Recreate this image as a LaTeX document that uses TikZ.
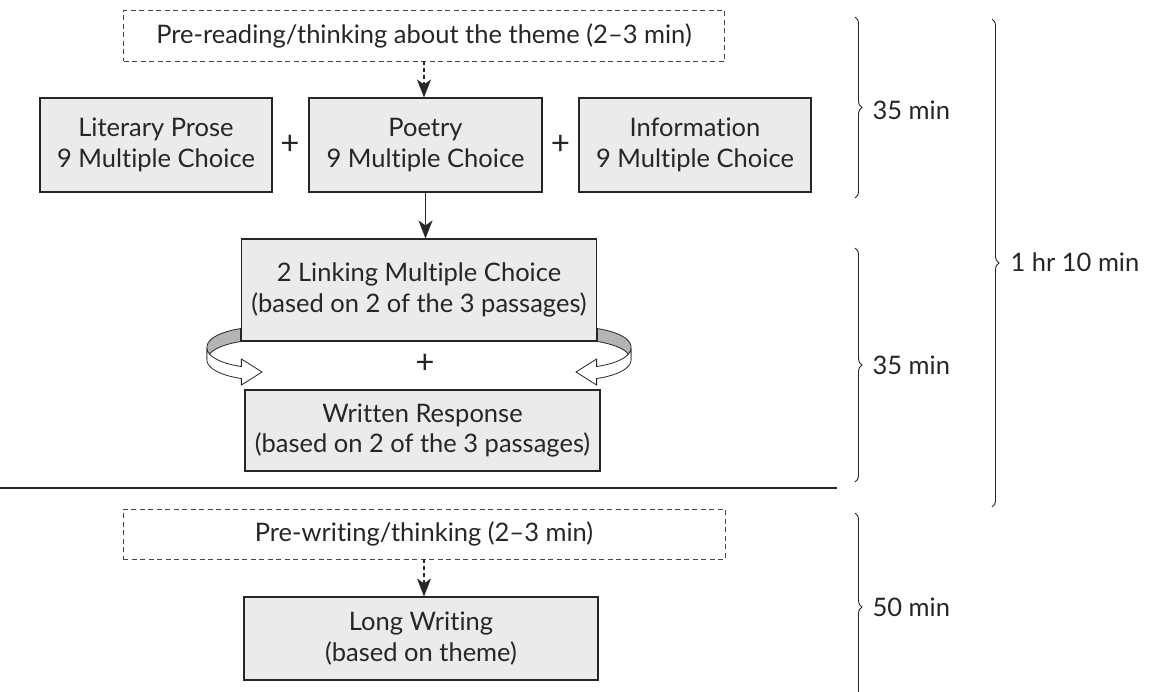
\documentclass[tikz,border=0pt]{standalone}
\usepackage{fontspec}
\setmainfont{Lato}[Ligatures=NoCommon]
\usetikzlibrary{arrows.meta,decorations.pathreplacing}

\definecolor{boxfill}{HTML}{EBEBEC}
\definecolor{ink}{HTML}{262626}
\definecolor{ribbongray}{HTML}{B4B4B6}

\tikzset{
  every node/.style={text=ink, font=\fontsize{25.5}{30.5}\selectfont, align=center},
  task/.style={draw=ink, fill=boxfill, line width=1.1pt, inner sep=0pt},
  prep/.style={draw=ink!85, dash pattern=on 5pt off 3.5pt, line width=0.9pt, inner sep=0pt},
  plus/.style={font=\fontsize{33}{33}\selectfont},
  tip/.style={-{Stealth[length=18pt,width=14pt,inset=5pt]}, line width=1.4pt, draw=ink},
  timebrace/.style={decorate, decoration={brace, amplitude=7pt}, line width=0.9pt, draw=ink},
}

% one twisted ribbon arrow, left side
\newcommand{\ribbonarrow}{%
  \filldraw[fill=ribbongray, draw=ink, line width=0.8pt]
    plot[domain=113:180, samples=25, variable=\t] ({262+55*cos(\t)}, {347-20*sin(\t)})
    -- plot[domain=180:113, samples=25, variable=\t] ({262+55*cos(\t)}, {360-20*sin(\t)})
    -- cycle;
  \filldraw[fill=white, draw=ink, line width=0.8pt]
    plot[domain=180:248, samples=25, variable=\t] ({262+55*cos(\t)}, {348-20*sin(\t)})
    -- ({262+55*cos(248)}, 359) -- (262,372) -- ({262+55*cos(248)}, 385)
    -- plot[domain=248:180, samples=25, variable=\t] ({262+55*cos(\t)}, {360-20*sin(\t)})
    -- cycle;%
}

\begin{document}
\begin{tikzpicture}[x=1pt, y=-1pt]
    \useasboundingbox (0,0) rectangle (1162,691);
    % reading part
    \node[prep, minimum width=601pt, minimum height=51pt] (preread) at (424,35.5)
        {Pre-reading/thinking about the theme (2--3 min)};
    \node[task, minimum width=232pt, minimum height=94pt] (prose) at (156,145)
        {Literary Prose\\9 Multiple Choice};
    \node[task, minimum width=233pt, minimum height=94pt] (poetry) at (425.5,145)
        {Poetry\\9 Multiple Choice};
    \node[task, minimum width=232pt, minimum height=94pt] (info) at (695,145)
        {Information\\9 Multiple Choice};
    \node[plus] (plusA) at (290,145) {+};% between prose and poetry
    \node[plus] (plusB) at (560.5,145) {+};% between poetry and information
    \node[task, minimum width=355pt, minimum height=102pt] (linking) at (419,290)
        {2 Linking Multiple Choice\\(based on 2 of the 3 passages)};
    \node[plus] (plusC) at (425,364) {+};
    \node[task, minimum width=355pt, minimum height=81pt] (written) at (422.5,430.5)
        {Written Response\\(based on 2 of the 3 passages)};
    \draw[tip, dash pattern=on 4pt off 3pt] (preread.south) -- (preread.south |- poetry.north);
    \draw[tip] (poetry.south) -- (poetry.south |- linking.north);
    % ribbon arrows round the linking box
    \ribbonarrow
    \begin{scope}[shift={(838,0)}, xscale=-1]
        \ribbonarrow
    \end{scope}
    % separator
    \coordinate (ruleL) at (0,488);
    \coordinate (ruleR) at (837,488);
    \draw[draw=ink, line width=1.1pt] (ruleL) -- (ruleR);
    % writing part
    \node[prep, minimum width=602pt, minimum height=50pt] (prewrite) at (424,534)
        {Pre-writing/thinking (2--3 min)};
    \node[task, minimum width=354pt, minimum height=83pt] (longw) at (421,638.5)
        {Long Writing\\(based on theme)};
    \draw[tip, dash pattern=on 4pt off 3pt] (prewrite.south) -- (prewrite.south |- longw.north);
    % timing braces
    \draw[timebrace] (855,17) -- (855,198);
    \draw[timebrace] (855,248) -- (855,482);
    \draw[timebrace] (992,19) -- (992,507);
    \draw[timebrace] (855,513) -- (855,701);
    \node[anchor=west] (timeA) at (869,110) {35 min};
    \node[anchor=west] (timeB) at (869,365) {35 min};
    \node[anchor=west] (timeC) at (1007,262) {1 hr 10 min};
    \node[anchor=west] (timeD) at (869,607) {50 min};
\end{tikzpicture}
\end{document}
